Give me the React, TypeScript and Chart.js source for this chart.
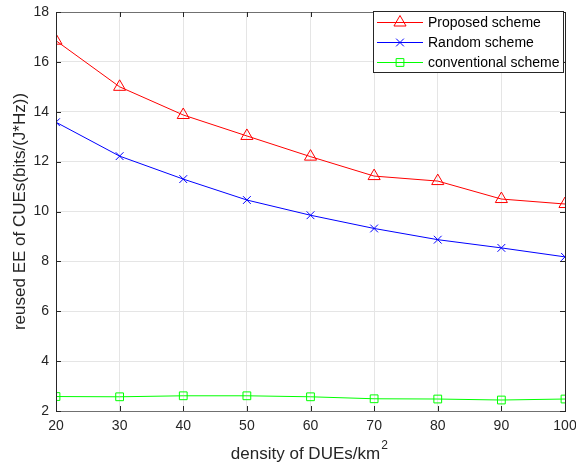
import React, { useEffect, useRef } from "react";
import { Chart, registerables } from "chart.js";

Chart.register(...registerables);

const densities = [20, 30, 40, 50, 60, 70, 80, 90, 100];
const proposed = [16.85, 15.0, 13.87, 13.03, 12.2, 11.42, 11.22, 10.5, 10.3];
const random = [13.58, 12.22, 11.3, 10.46, 9.85, 9.32, 8.87, 8.54, 8.18];
const conventional = [2.58, 2.57, 2.61, 2.61, 2.57, 2.49, 2.48, 2.44, 2.48];
const seriesLabels = ["Proposed scheme", "Random scheme", "conventional scheme"];
const seriesColors = ["#ff0000", "#0000ff", "#00ff00"];
const seriesStyles = ["triangle", "crossRot", "rect"];
const seriesRadii = [7, 5.5, 5.5];
const xTitle = "density of DUEs/km";
const yTitle = "reused EE of CUEs(bits/(J*Hz))";

const FONT = "Liberation Sans, Arial, sans-serif";

function drawMarker(ctx: any, style: string, x: number, y: number, r: number, color: string) {
  ctx.save();
  ctx.strokeStyle = color;
  ctx.lineWidth = 1;
  ctx.beginPath();
  if (style === "triangle") {
    for (let k = 0; k < 3; k++) {
      const ang = (k * 2 * Math.PI) / 3;
      const px = x + Math.sin(ang) * r;
      const py = y - Math.cos(ang) * r;
      if (k === 0) ctx.moveTo(px, py);
      else ctx.lineTo(px, py);
    }
    ctx.closePath();
  } else if (style === "crossRot") {
    const o = r * Math.SQRT1_2;
    ctx.moveTo(x - o, y - o);
    ctx.lineTo(x + o, y + o);
    ctx.moveTo(x - o, y + o);
    ctx.lineTo(x + o, y - o);
  } else {
    const s = r * Math.SQRT1_2;
    ctx.rect(x - s, y - s, 2 * s, 2 * s);
  }
  ctx.stroke();
  ctx.restore();
}

const decorPlugin = {
  id: "decor",
  afterDraw(chart: any) {
    const { ctx, chartArea: a, scales } = chart;
    const xs = scales.x;
    const ys = scales.y;
    ctx.save();
    // frame
    ctx.lineWidth = 1;
    ctx.strokeStyle = "#707070";
    ctx.beginPath();
    ctx.moveTo(a.left, a.top + 0.5);
    ctx.lineTo(a.right + 0.5, a.top + 0.5);
    ctx.moveTo(a.left, a.bottom + 0.5);
    ctx.lineTo(a.right + 0.5, a.bottom + 0.5);
    ctx.stroke();
    ctx.strokeStyle = "#262626";
    ctx.beginPath();
    ctx.moveTo(a.left + 0.5, a.top);
    ctx.lineTo(a.left + 0.5, a.bottom + 1);
    ctx.moveTo(a.right + 0.5, a.top);
    ctx.lineTo(a.right + 0.5, a.bottom + 1);
    ctx.stroke();
    // inward ticks
    ctx.beginPath();
    ys.ticks.forEach((t: any) => {
      const y = Math.round(ys.getPixelForValue(t.value)) + 0.5;
      ctx.moveTo(a.left, y);
      ctx.lineTo(a.left + 5, y);
      ctx.moveTo(a.right, y);
      ctx.lineTo(a.right - 5, y);
    });
    xs.ticks.forEach((t: any) => {
      const x = Math.round(xs.getPixelForValue(t.value)) + 0.5;
      ctx.moveTo(x, a.bottom);
      ctx.lineTo(x, a.bottom - 5);
      ctx.moveTo(x, a.top);
      ctx.lineTo(x, a.top + 5);
    });
    ctx.stroke();
    // axis titles
    ctx.fillStyle = "#262626";
    ctx.font = `17px ${FONT}`;
    ctx.textAlign = "center";
    ctx.textBaseline = "middle";
    const w = ctx.measureText(xTitle).width;
    const cx = (a.left + a.right) / 2 - 5;
    ctx.fillText(xTitle, cx, 454);
    ctx.font = `12px ${FONT}`;
    ctx.textAlign = "left";
    ctx.fillText("2", cx + w / 2 + 1, 446);
    ctx.font = `17px ${FONT}`;
    ctx.textAlign = "center";
    ctx.save();
    ctx.translate(20, (a.top + a.bottom) / 2);
    ctx.rotate(-Math.PI / 2);
    ctx.fillText(yTitle, 0, 0);
    ctx.restore();
    // legend
    const lx = 373, ly = 11, lw = 190, lh = 61;
    ctx.fillStyle = "#ffffff";
    ctx.fillRect(lx, ly, lw, lh);
    ctx.strokeStyle = "#262626";
    ctx.strokeRect(lx + 0.5, ly + 0.5, lw, lh);
    ctx.font = `14px ${FONT}`;
    ctx.textAlign = "left";
    seriesLabels.forEach((label, i) => {
      const y = ly + 11.5 + i * 20;
      ctx.strokeStyle = seriesColors[i];
      ctx.lineWidth = 1;
      ctx.beginPath();
      ctx.moveTo(lx + 4, y);
      ctx.lineTo(lx + 50, y);
      ctx.stroke();
      drawMarker(ctx, seriesStyles[i], lx + 27, y, seriesRadii[i], seriesColors[i]);
      ctx.fillStyle = "#000000";
      ctx.fillText(label, lx + 55, y + 1);
    });
    ctx.restore();
  },
};

export default function App() {
  const ref = useRef<HTMLCanvasElement>(null);
  useEffect(() => {
    document.body.style.margin = "0";
    const series = [proposed, random, conventional];
    const chart = new Chart(ref.current!, {
      type: "line",
      data: {
        datasets: series.map((data, i) => ({
          label: seriesLabels[i],
          data: densities.map((d, j) => ({ x: d, y: data[j] })),
          borderColor: seriesColors[i],
          backgroundColor: "rgba(0,0,0,0)",
          borderWidth: 1,
          pointStyle: seriesStyles[i] as any,
          pointRadius: seriesRadii[i],
          pointBorderWidth: 1,
          pointBorderColor: seriesColors[i],
          pointBackgroundColor: "rgba(0,0,0,0)",
          tension: 0,
        })),
      },
      options: {
        animation: false,
        responsive: false,
        maintainAspectRatio: false,
        layout: { autoPadding: false, padding: { top: 12, right: 11, left: 0, bottom: 0 } },
        plugins: { legend: { display: false }, tooltip: { enabled: false } },
        scales: {
          x: {
            type: "linear",
            min: 20,
            max: 100,
            afterFit: (s: any) => {
              s.height = 57;
              s.paddingLeft = 0;
              s.paddingRight = 0;
            },
            ticks: {
              stepSize: 10,
              color: "#262626",
              font: { family: FONT, size: 14 },
              padding: 7,
              maxRotation: 0,
            },
            grid: { color: "#e5e5e5", drawTicks: false },
            border: { display: false },
          },
          y: {
            min: 2,
            max: 18,
            afterFit: (s: any) => {
              s.width = 56;
              s.paddingTop = 0;
              s.paddingBottom = 0;
            },
            ticks: {
              stepSize: 2,
              color: "#262626",
              font: { family: FONT, size: 14 },
              padding: 7,
            },
            grid: { color: "#e5e5e5", drawTicks: false },
            border: { display: false },
          },
        },
      },
      plugins: [decorPlugin],
    });
    return () => chart.destroy();
  }, []);
  return (
    <div style={{ position: "absolute", left: 0, top: 0, width: 576, height: 468, background: "#fff" }}>
      <canvas ref={ref} width={576} height={468} style={{ width: 576, height: 468 }} />
    </div>
  );
}
